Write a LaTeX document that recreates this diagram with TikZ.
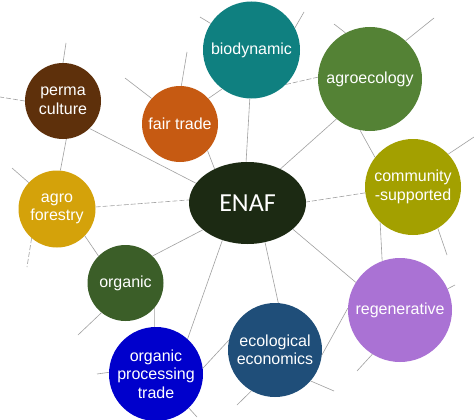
\documentclass[tikz,border=0pt]{standalone}
\usepackage{fontspec}
\setmainfont{Liberation Sans}
\newfontfamily\enaffont{Carlito}
\usetikzlibrary{shapes.geometric}
\definecolor{linegray}{HTML}{A0A0A0}
\definecolor{cenaf}{HTML}{1C2A13}
\definecolor{cbio}{HTML}{0F8080}
\definecolor{cagroe}{HTML}{548235}
\definecolor{ccomm}{HTML}{A3A000}
\definecolor{cregen}{HTML}{AA72D4}
\definecolor{ceco}{HTML}{1F4E79}
\definecolor{copt}{HTML}{0000CC}
\definecolor{corg}{HTML}{3B5E28}
\definecolor{caf}{HTML}{D4A20A}
\definecolor{cperma}{HTML}{5E300B}
\definecolor{cfair}{HTML}{C65A12}
\begin{document}
\begin{tikzpicture}[x=1pt,y=-1pt,
  bub/.style={circle, inner sep=0pt, text=white, align=center,
    font=\fontsize{16}{18.5}\selectfont},
  link/.style={draw=linegray, line width=0.6pt},
  dlink/.style={link, dash pattern=on 5pt off 2pt}]
\fill[white] (0,0) rectangle (474,420);
\useasboundingbox (0,0) rectangle (474,420);

% nodes
\node[ellipse, inner sep=0pt, minimum width=117pt, minimum height=82pt, fill=cenaf,
      text=white, font=\enaffont\fontsize{26}{30}\selectfont] (enaf) at (247.5,203) {ENAF};
\node[bub, minimum size=97pt, fill=cbio] (bio) at (251.5,50) {biodynamic};
\node[bub, minimum size=104pt, fill=cagroe] (agroe) at (370,79) {agroecology};
\node[bub, minimum size=96pt, fill=ccomm] (comm) at (413,187) {community\\-supported};
\node[bub, minimum size=104pt, fill=cregen] (regen) at (400,310) {regenerative};
\node[bub, minimum size=94pt, fill=ceco] (eco) at (275,350) {ecological\\economics};
\node[bub, minimum size=94pt, fill=copt] (opt) at (156,374) {organic\\processing\\trade};
\node[bub, minimum size=76pt, fill=corg] (org) at (125.5,283) {organic};
\node[bub, minimum size=77pt, fill=caf] (af) at (57,209) {agro\\forestry};
\node[bub, minimum size=76pt, fill=cperma] (perma) at (63,101) {perma\\culture};
\node[bub, minimum size=76pt, fill=cfair] (fair) at (180,124) {fair trade};

% free ends of stubs
\coordinate (pUp) at (66,43);
\coordinate (pLeft) at (0,97);
\coordinate (fUp) at (187,52);
\coordinate (fUL) at (125,78);
\coordinate (bUL) at (200,17);
\coordinate (bUR) at (304,12);
\coordinate (aUL) at (334,24);
\coordinate (aUR) at (434,18);
\coordinate (cUR) at (474,137);
\coordinate (cDR) at (447,255);
\coordinate (rR) at (455,285);
\coordinate (rDL) at (357,371);
\coordinate (eDR) at (334,391);
\coordinate (eDL) at (237,405);
\coordinate (oDL) at (78,335);
\coordinate (afD) at (27,267);
\coordinate (afUL) at (12,168);
\coordinate (optL) at (97,374);
\coordinate (optDR) at (197,417);

% connectors between nodes
\draw[link] (perma.-46) -- (enaf.159);
\draw[link] (perma.-85) -- (af.85);
\draw[link] (fair.-44) -- (enaf.134);
\draw[link] (fair.42) -- (bio.-127);
\draw[dlink] (bio.-45) -- (agroe.178);
\draw[link] (bio.-92) -- (enaf.92);
\draw[link] (agroe.-130) -- (enaf.46);
\draw[link] (agroe.-101) -- (comm.142);
\draw[dlink] (comm.-173) -- (enaf.1);
\draw[link] (comm.-133) -- (regen.110);
\draw[link] (enaf.-30) -- (regen.148);
\draw[link] (regen.178) -- (eco.-6);
\draw[link] (enaf.-66) -- (eco.86);
\draw[link] (enaf.-124) -- (opt.48);
\draw[link] (enaf.-149) -- (org.45);
\draw[link] (org.-41) -- (opt.92);
\draw[link] (af.-44) -- (org.135);
\draw[dlink] (af.3) -- (enaf.177);
\draw[link] (opt.7) -- (eco.168);

% stubs
\draw[link] (perma.90) -- (pUp);
\draw[dlink] (perma.180) -- (pLeft);
\draw[link] (fair.88) -- (fUp);
\draw[link] (fair.138) -- (fUL);
\draw[link] (bio.147) -- (bUL);
\draw[link] (bio.27) -- (bUR);
\draw[link] (agroe.118) -- (aUL);
\draw[link] (agroe.47) -- (aUR);
\draw[link] (comm.43) -- (cUR);
\draw[link] (comm.-59) -- (cDR);
\draw[link] (regen.24) -- (rR);
\draw[link] (regen.-122) -- (rDL);
\draw[link] (eco.-41) -- (eDR);
\draw[link] (eco.-120) -- (eDL);
\draw[link] (org.-129) -- (oDL);
\draw[dlink] (af.-131) -- (afD);
\draw[link] (af.137) -- (afUL);
\draw[link] (opt.178) -- (optL);
\draw[link] (opt.-46) -- (optDR);
\end{tikzpicture}
\end{document}
